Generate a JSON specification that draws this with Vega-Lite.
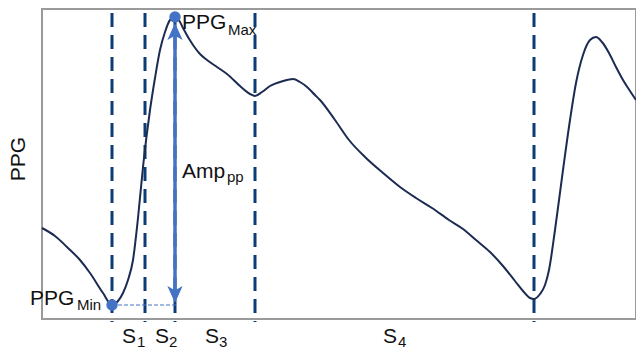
{
  "$schema": "https://vega.github.io/schema/vega-lite/v6.json",
  "width": 594,
  "height": 310,
  "autosize": "none",
  "padding": {"left": 42, "top": 9, "right": 0, "bottom": 31},
  "background": "white",
  "config": {
    "view": {"stroke": "#9a9a9a", "strokeWidth": 2},
    "text": {"font": "Liberation Sans", "color": "#111111"}
  },
  "datasets": {
    "ppg": [
      {"t": 0, "v": 91}, {"t": 13, "v": 83}, {"t": 25, "v": 72}, {"t": 38, "v": 59}, {"t": 48, "v": 46},
      {"t": 61, "v": 26}, {"t": 70, "v": 14}, {"t": 76, "v": 18}, {"t": 81, "v": 26}, {"t": 86, "v": 39},
      {"t": 91, "v": 59}, {"t": 96, "v": 101}, {"t": 101, "v": 152}, {"t": 108, "v": 209}, {"t": 113, "v": 241},
      {"t": 118, "v": 269}, {"t": 123, "v": 287}, {"t": 128, "v": 299}, {"t": 133, "v": 302}, {"t": 138, "v": 297},
      {"t": 141, "v": 291}, {"t": 151, "v": 274}, {"t": 158, "v": 265}, {"t": 165, "v": 259}, {"t": 175, "v": 252},
      {"t": 185, "v": 245}, {"t": 198, "v": 233}, {"t": 208, "v": 225}, {"t": 213, "v": 223}, {"t": 220, "v": 227},
      {"t": 228, "v": 233}, {"t": 241, "v": 238}, {"t": 251, "v": 240}, {"t": 258, "v": 237}, {"t": 265, "v": 232},
      {"t": 273, "v": 224}, {"t": 278, "v": 219}, {"t": 293, "v": 199}, {"t": 307, "v": 179}, {"t": 323, "v": 162},
      {"t": 341, "v": 146}, {"t": 358, "v": 132}, {"t": 374, "v": 121}, {"t": 390, "v": 111}, {"t": 407, "v": 99},
      {"t": 421, "v": 90}, {"t": 434, "v": 79}, {"t": 448, "v": 67}, {"t": 461, "v": 53}, {"t": 473, "v": 38},
      {"t": 481, "v": 28}, {"t": 488, "v": 21}, {"t": 492, "v": 20}, {"t": 498, "v": 25}, {"t": 503, "v": 34},
      {"t": 507, "v": 49}, {"t": 513, "v": 89}, {"t": 521, "v": 149}, {"t": 528, "v": 199}, {"t": 534, "v": 236},
      {"t": 541, "v": 264}, {"t": 548, "v": 279}, {"t": 554, "v": 282}, {"t": 560, "v": 277}, {"t": 567, "v": 266},
      {"t": 574, "v": 252}, {"t": 581, "v": 239}, {"t": 588, "v": 228}, {"t": 594, "v": 219}
    ],
    "cuts": [
      {"t": 70, "lo": -3, "hi": 306}, {"t": 103, "lo": -3, "hi": 306}, {"t": 133, "lo": -3, "hi": 306},
      {"t": 213, "lo": -3, "hi": 306}, {"t": 492, "lo": -3, "hi": 306}
    ],
    "baseline": [{"t": 70, "t2": 135, "v": 14}],
    "amp": [{"t": 133, "lo": 20, "hi": 292}],
    "extremes": [{"t": 70, "v": 14, "k": "min"}, {"t": 133, "v": 302, "k": "max"}],
    "mainText": [
      {"t": 140, "v": 290, "s": "PPG"},
      {"t": -12, "v": 14, "s": "PPG"},
      {"t": 140, "v": 141, "s": "Amp"},
      {"t": 80, "v": -24, "s": "S"},
      {"t": 113, "v": -24, "s": "S"},
      {"t": 163, "v": -24, "s": "S"},
      {"t": 341, "v": -24, "s": "S"}
    ],
    "subText": [
      {"t": 186, "v": 284, "s": "Max"},
      {"t": 35, "v": 9, "s": "Min"},
      {"t": 185, "v": 137, "s": "pp"},
      {"t": 95, "v": -28, "s": "1"},
      {"t": 127, "v": -28, "s": "2"},
      {"t": 177, "v": -28, "s": "3"},
      {"t": 356, "v": -28, "s": "4"}
    ],
    "ytitle": [{"t": -17, "v": 160, "s": "PPG"}],
    "arrowUp": [{"t": 133, "v": 287.5}],
    "arrowDown": [{"t": 133, "v": 24.5}]
  },
  "resolve": {"scale": {"x": "shared", "y": "shared"}},
  "layer": [
    {
      "data": {"name": "cuts"},
      "mark": {"type": "rule", "stroke": "#0b3c73", "strokeWidth": 3, "strokeDash": [14, 8]},
      "encoding": {
        "x": {"field": "t", "type": "quantitative", "scale": {"domain": [0, 594], "nice": false, "zero": false}, "axis": null},
        "y": {"field": "hi", "type": "quantitative", "scale": {"domain": [0, 310], "nice": false, "zero": false}, "axis": null},
        "y2": {"field": "lo"}
      }
    },
    {
      "data": {"name": "ppg"},
      "mark": {"type": "line", "interpolate": "monotone", "stroke": "#1c2b52", "strokeWidth": 2},
      "encoding": {
        "x": {"field": "t", "type": "quantitative"},
        "y": {"field": "v", "type": "quantitative"}
      }
    },
    {
      "data": {"name": "baseline"},
      "mark": {"type": "rule", "stroke": "#4472c4", "strokeWidth": 1.2, "strokeDash": [4, 2]},
      "encoding": {
        "x": {"field": "t", "type": "quantitative"},
        "x2": {"field": "t2"},
        "y": {"field": "v", "type": "quantitative"}
      }
    },
    {
      "data": {"name": "amp"},
      "mark": {"type": "rule", "stroke": "#4472c4", "strokeWidth": 3.5},
      "encoding": {
        "x": {"field": "t", "type": "quantitative"},
        "y": {"field": "hi", "type": "quantitative"},
        "y2": {"field": "lo"}
      }
    },
    {
      "data": {"name": "arrowUp"},
      "mark": {"type": "point", "filled": true, "color": "#4472c4", "opacity": 1, "size": 289, "shape": "M0,-1L0.9,1L0,0.5L-0.9,1Z"},
      "encoding": {
        "x": {"field": "t", "type": "quantitative"},
        "y": {"field": "v", "type": "quantitative"}
      }
    },
    {
      "data": {"name": "arrowDown"},
      "mark": {"type": "point", "filled": true, "color": "#4472c4", "opacity": 1, "size": 289, "shape": "M0,1L0.9,-1L0,-0.5L-0.9,-1Z"},
      "encoding": {
        "x": {"field": "t", "type": "quantitative"},
        "y": {"field": "v", "type": "quantitative"}
      }
    },
    {
      "data": {"name": "extremes"},
      "mark": {"type": "point", "filled": true, "color": "#4472c4", "opacity": 1, "size": 130, "shape": "circle"},
      "encoding": {
        "x": {"field": "t", "type": "quantitative"},
        "y": {"field": "v", "type": "quantitative"}
      }
    },
    {
      "data": {"name": "mainText"},
      "mark": {"type": "text", "fontSize": 21, "align": "left", "baseline": "alphabetic"},
      "encoding": {
        "x": {"field": "t", "type": "quantitative"},
        "y": {"field": "v", "type": "quantitative"},
        "text": {"field": "s"}
      }
    },
    {
      "data": {"name": "subText"},
      "mark": {"type": "text", "fontSize": 15, "align": "left", "baseline": "alphabetic"},
      "encoding": {
        "x": {"field": "t", "type": "quantitative"},
        "y": {"field": "v", "type": "quantitative"},
        "text": {"field": "s"}
      }
    },
    {
      "data": {"name": "ytitle"},
      "mark": {"type": "text", "fontSize": 21, "angle": 270, "align": "center", "baseline": "alphabetic"},
      "encoding": {
        "x": {"field": "t", "type": "quantitative"},
        "y": {"field": "v", "type": "quantitative"},
        "text": {"field": "s"}
      }
    }
  ]
}
